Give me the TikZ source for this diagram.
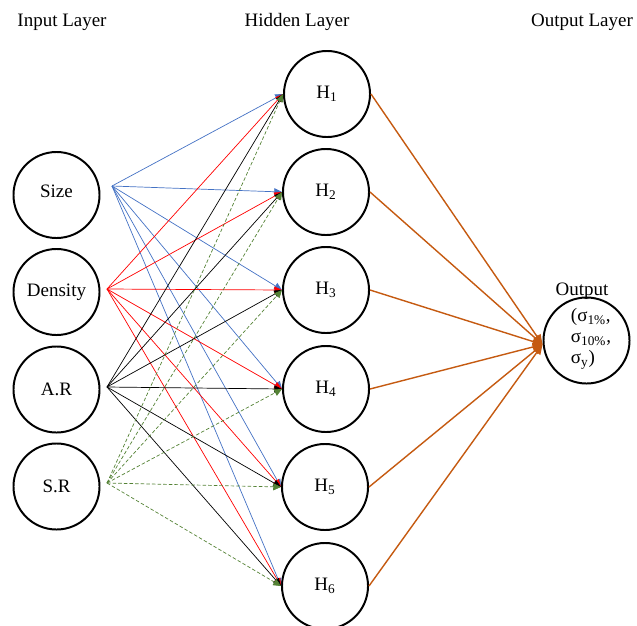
\documentclass[tikz,border=0pt]{standalone}
\usepackage{fontspec}
\setmainfont{Liberation Serif}
\usetikzlibrary{arrows.meta}

\definecolor{sizeblue}{HTML}{4472C4}
\definecolor{densred}{HTML}{FF0000}
\definecolor{srgreen}{HTML}{548235}
\definecolor{outorange}{HTML}{C55A11}
\newcommand{\nnfont}{\fontsize{13.5}{15}\selectfont}

\begin{document}
\begin{tikzpicture}[x=0.025cm, y=-0.025cm, >={Triangle[length=5.5pt,width=5pt]},
    neuron/.style={draw, circle, line width=1.4pt, minimum size=2.15cm, inner sep=0pt, font=\nnfont},
    wire/.style={->, line width=0.5pt},
    outwire/.style={-{Triangle[length=7pt,width=6pt]}, line width=1pt, draw=outorange}]
                \useasboundingbox (0,0) rectangle (637,625);

                \node[font=\nnfont] (tin) at (62,22) {Input Layer};
                \node[font=\nnfont] (thid) at (297,22) {Hidden Layer};
                \node[font=\nnfont] (tout) at (582,22) {Output Layer};

                % input layer
                \node[neuron] (in1) at (56.5,195) {\raisebox{0.2cm}{Size}};
                \node[neuron] (in2) at (56.5,292) {Density};
                \node[neuron] (in3) at (56.5,389.5) {A.R};
                \node[neuron] (in4) at (56.5,486.5) {S.R};

                \coordinate (s1) at (112,186);
                \coordinate (s2) at (107,289);
                \coordinate (s3) at (107,387);
                \coordinate (s4) at (107,483);

                % hidden layer
                \node[neuron] (h1) at (327,94) {H\textsubscript{1}};
                \node[neuron] (h2) at (326,192) {H\textsubscript{2}};
                \node[neuron] (h3) at (326,290) {H\textsubscript{3}};
                \node[neuron] (h4) at (326,389) {H\textsubscript{4}};
                \node[neuron] (h5) at (325,487) {H\textsubscript{5}};
                \node[neuron] (h6) at (325,586) {H\textsubscript{6}};

                % output layer
                \node[neuron] (out) at (586.5,340.5) {};
                \node[font=\nnfont] (outname) at (582,291) {Output};
                \node[font=\nnfont, anchor=west, align=left] (outtext) at (566,339)
                    {(σ\textsubscript{1\%},\\ σ\textsubscript{10\%},\\ σ\textsubscript{y})};

                \foreach \h in {1,...,6} \draw[wire, sizeblue] (s1) -- (h\h.west);
                \foreach \h in {1,...,6} \draw[wire, densred] (s2) -- (h\h.west);
                \foreach \h in {1,...,6} \draw[wire, black] (s3) -- (h\h.west);
                \foreach \h in {1,...,6} \draw[wire, srgreen, dashed, dash pattern=on 2.5pt off 1.5pt] (s4) -- (h\h.west);

                \foreach \h in {1,...,6} \draw[outwire] (h\h.east) -- ([yshift=-0.1cm]out.west);
            \end{tikzpicture}
\end{document}
